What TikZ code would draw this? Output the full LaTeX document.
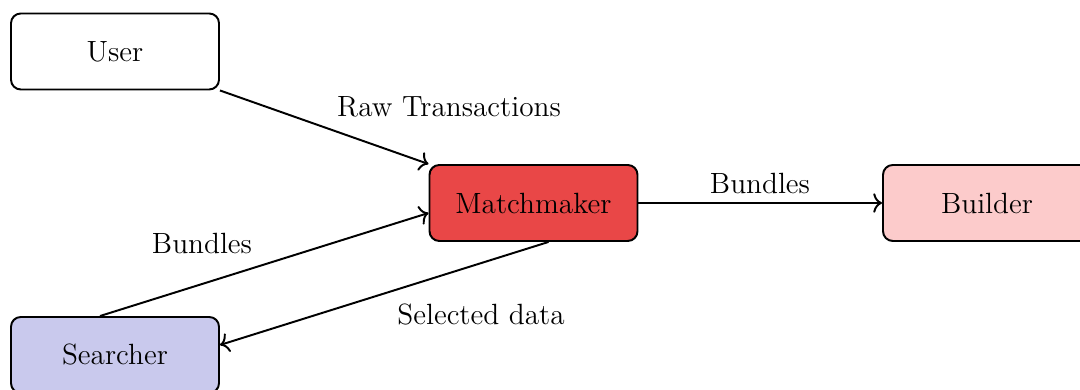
\documentclass[tikz,border=0pt]{standalone}
\usepackage{tikz}
\usetikzlibrary{arrows.meta}
\definecolor{mmred}{RGB}{233,71,71}
\definecolor{bldpink}{RGB}{252,203,203}
\definecolor{srchblue}{RGB}{201,201,237}
\begin{document}
\begin{tikzpicture}[x=0.41pt,y=-0.41pt,
  font=\fontsize{12}{14}\selectfont,
  box/.style={draw, thick, rounded corners=4pt, minimum width=208*0.41pt,
    minimum height=76*0.41pt, inner sep=0pt},
  flow/.style={thick, -{To[width=8pt,length=3.6pt]}},
  lbl/.style={anchor=base, inner sep=0pt}]
\useasboundingbox (0,0) rectangle (1080,390);
% actors
\node[box] (user) at (115,51.5) {User};
\node[box, fill=mmred] (mm) at (533.5,203) {Matchmaker};
\node[box, fill=bldpink] (bld) at (987,203) {Builder};
\node[box, fill=srchblue] (srch) at (115,355) {Searcher};
% message flows
\draw[flow] (user.south east) -- (mm.north west);
\draw[flow] ([xshift=-15*0.41pt]srch.north) -- ([yshift=-10*0.41pt]mm.west);
\draw[flow] ([xshift=15*0.41pt]mm.south) -- ([yshift=10*0.41pt]srch.east);
\draw[flow] (mm.east) -- (bld.west);
% flow labels
\node[lbl] (lraw) at (449,117) {Raw Transactions};
\node[lbl] (lbun) at (202,254) {Bundles};
\node[lbl] (lsel) at (481,325) {Selected data};
\node[lbl] (lbb) at (760,194) {Bundles};
\end{tikzpicture}
\end{document}
